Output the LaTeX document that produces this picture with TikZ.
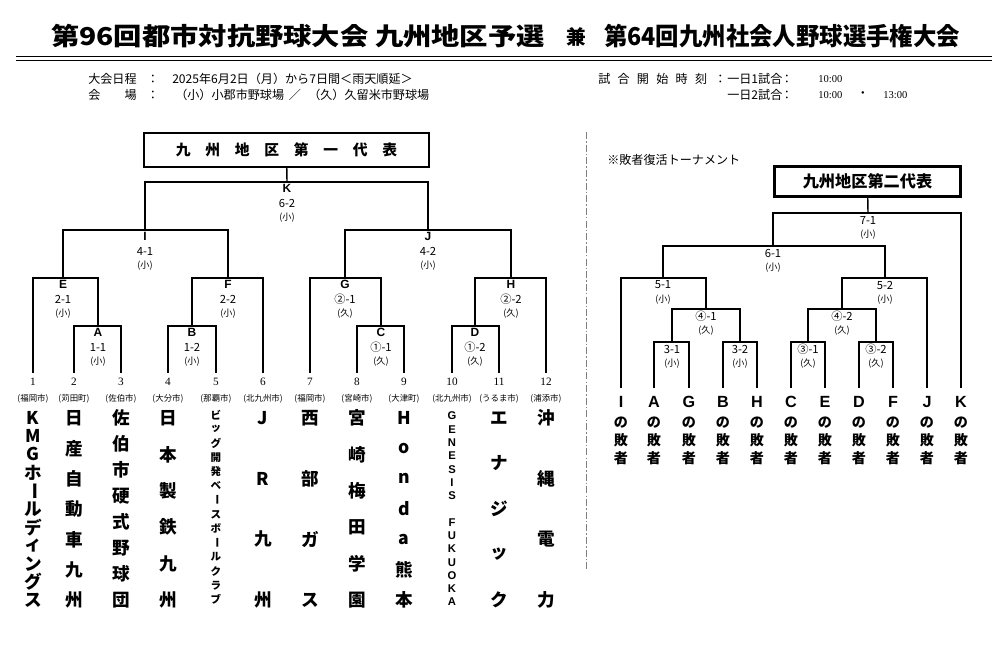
\documentclass[tikz,border=0pt]{standalone}
\usepackage{fontspec}
\setmainfont{Liberation Sans}
\newfontfamily\jp{Noto Sans CJK JP}
\newfontfamily\timesfont{Liberation Serif}
\usetikzlibrary{calc}
\newcommand\chou{\rotatebox[origin=c]{-90}{ー}}
\newcommand\hsp{\hspace{0.6em}}
\begin{document}
\begin{tikzpicture}[x=0.025cm,y=-0.025cm,
    bk/.style={line width=1pt},
    title/.style={font=\jp\bfseries\fontsize{17.5}{17.5}\selectfont,inner sep=0},
    info/.style={font=\jp\fontsize{8.6}{8.6}\selectfont,inner sep=0},
    clock/.style={font=\timesfont\fontsize{7.5}{7.5}\selectfont,inner sep=0},
    topbox/.style={draw,line width=1.4pt,minimum width=7.1cm,minimum height=0.85cm,
      font=\jp\bfseries\fontsize{10.5}{10.5}\selectfont},
    num/.style={font=\timesfont\fontsize{8}{8}\selectfont,inner xsep=1pt,inner ysep=3.7pt},
    city/.style={font=\jp\fontsize{6}{6}\selectfont,inner sep=0},
    ltr/.style={font=\bfseries\fontsize{8.5}{8.5}\selectfont,inner sep=0},
    score/.style={font=\jp\fontsize{8}{8}\selectfont,inner sep=0},
    venue/.style={font=\jp\fontsize{6.5}{6.5}\selectfont,inner sep=0},
    tname/.style={font=\jp\bfseries\fontsize{12.5}{12.5}\selectfont,inner sep=0},
    tsmall/.style={font=\jp\bfseries\fontsize{7.5}{7.5}\selectfont,inner sep=0},
    tlatin/.style={font=\bfseries\fontsize{8}{8}\selectfont,inner sep=0},
    lose/.style={font=\bfseries\fontsize{11.5}{11.5}\selectfont,inner xsep=1pt,inner ysep=5.8pt},
    loser/.style={font=\jp\bfseries\fontsize{10}{12.7}\selectfont,align=center,inner sep=0},
    sep/.style={gray,line width=0.6pt,dash pattern=on 5pt off 1.5pt on 1pt off 1.5pt}]
  \path[use as bounding box,fill=white] (0,0) rectangle (1000,645);

  % title
  \node[title] (tt1) at (298,36) {\scalebox{1.15}[1]{第96回都市対抗野球大会 九州地区予選}};
  \node[title,font=\jp\bfseries\fontsize{14}{14}\selectfont] (tt2) at (576,37) {兼};
  \node[title] (tt3) at (782,36) {\scalebox{0.95}[1]{第64回九州社会人野球選手権大会}};
  \draw[line width=1.4pt] (16,56.5) -- (992,56.5);
  \draw[line width=0.5pt] (16,60.5) -- (992,60.5);

  % info
  \node[info,anchor=west] (d1) at (88,79) {大会日程};
  \node[info] (d2) at (153,79) {：};
  \node[info,anchor=west] (d3) at (172,79) {2025年6月2日（月）から7日間＜雨天順延＞};
  \node[info,anchor=west] (v1) at (88,95) {会　　場};
  \node[info] (v2) at (153,95) {：};
  \node[info,anchor=west] (v3) at (175,95) {（小）小郡市野球場};
  \node[info] (v4) at (295,95) {／};
  \node[info,anchor=west] (v5) at (308,95) {（久）久留米市野球場};
  \node[info,anchor=west] (s1) at (598,79) {試\hsp 合\hsp 開\hsp 始\hsp 時\hsp 刻\hsp ：};
  \node[info,anchor=west] (s2) at (727,79) {一日1試合};
  \node[info] (s3) at (787,79) {：};
  \node[clock,anchor=west] (s4) at (818,79) {10:00};
  \node[info,anchor=west] (s5) at (727,95) {一日2試合};
  \node[info] (s6) at (787,95) {：};
  \node[clock,anchor=west] (s7) at (818,95) {10:00};
  \node[info] (s8) at (863,95) {・};
  \node[clock,anchor=west] (s9) at (883,95) {13:00};

  % first representative
  \node[topbox] (top1) at (286.5,150) {九　州　地　区　第　一　代　表};
  \foreach \n/\x/\c in {1/33/福岡市,2/74/苅田町,3/121/佐伯市,4/168/大分市,5/216/那覇市,6/263/北九州市,
      7/310/福岡市,8/357/宮崎市,9/404/大津町,10/452/北九州市,11/499/うるま市,12/546/浦添市} {
    \node[num] (n\n) at (\x,382) {\n};
    \node[city] (c\n) at (\x,399) {(\c)};
  }
  \coordinate (A) at (98,326);
  \coordinate (B) at (192,326);
  \coordinate (C) at (381,326);
  \coordinate (D) at (475,326);
  \coordinate (E) at (63,278);
  \coordinate (F) at (228,278);
  \coordinate (G) at (345,278);
  \coordinate (H) at (511,278);
  \coordinate (I) at (145,230);
  \coordinate (J) at (428,230);
  \coordinate (K) at (287,182);
  \draw[bk] (n2) |- (A) -| (n3);
  \draw[bk] (n4) |- (B) -| (n5);
  \draw[bk] (n8) |- (C) -| (n9);
  \draw[bk] (n10) |- (D) -| (n11);
  \draw[bk] (n1) |- (E) -| (A);
  \draw[bk] (B) |- (F) -| (n6);
  \draw[bk] (n7) |- (G) -| (C);
  \draw[bk] (D) |- (H) -| (n12);
  \draw[bk] (E) |- (I) -| (F);
  \draw[bk] (G) |- (J) -| (H);
  \draw[bk] (I) |- (K) -| (J);
  \draw[bk] (K) -- (top1);
  \foreach \m/\s/\v in {A/1-1/小,B/1-2/小,C/①-1/久,D/①-2/久,E/2-1/小,F/2-2/小,
      G/②-1/久,H/②-2/久,I/4-1/小,J/4-2/小,K/6-2/小} {
    \node[ltr] (\m-l) at ($(\m)+(0,6)$) {\m};
    \node[score] (\m-s) at ($(\m)+(0,21)$) {\s};
    \node[venue] (\m-v) at ($(\m)+(0,36)$) {(\v)};
  }

  % team names
  \foreach \c [count=\i from 0] in {K,M,G,ホ,\chou,ル,デ,ィ,ン,グ,ス}
    \node[tname] (ta\i) at (33,{418+\i*18.2}) {\c};
  \foreach \c [count=\i from 0] in {日,産,自,動,車,九,州}
    \node[tname] (tb\i) at (74,{418+\i*30.33}) {\c};
  \foreach \c [count=\i from 0] in {佐,伯,市,硬,式,野,球,団}
    \node[tname] (tc\i) at (121,{418+\i*26}) {\c};
  \foreach \c [count=\i from 0] in {日,本,製,鉄,九,州}
    \node[tname] (td\i) at (168,{418+\i*36.4}) {\c};
  \foreach \c [count=\i from 0] in {ビ,ッ,グ,開,発,ベ,\chou,ス,ボ,\chou,ル,ク,ラ,ブ}
    \node[tsmall] (te\i) at (216,{415+\i*14.2}) {\c};
  \foreach \c [count=\i from 0] in {J,R,九,州}
    \node[tname] (tf\i) at (263,{418+\i*60.67}) {\c};
  \foreach \c [count=\i from 0] in {西,部,ガ,ス}
    \node[tname] (tg\i) at (310,{418+\i*60.67}) {\c};
  \foreach \c [count=\i from 0] in {宮,崎,梅,田,学,園}
    \node[tname] (th\i) at (357,{418+\i*36.4}) {\c};
  \foreach \c [count=\i from 0] in {H,o,n,d,a,熊,本}
    \node[tname] (ti\i) at (404,{418+\i*30.33}) {\c};
  \foreach \c [count=\i from 0] in {G,E,N,E,S,I,S}
    \node[tlatin] (tj\i) at (452,{416+\i*13.29}) {\c};
  \foreach \c [count=\i from 8] in {F,U,K,U,O,K,A}
    \node[tlatin] (tj\i) at (452,{416+\i*13.29}) {\c};
  \foreach \c [count=\i from 0] in {エ,ナ,ジ,ッ,ク}
    \node[tname] (tk\i) at (499,{418+\i*45.5}) {\c};
  \foreach \c [count=\i from 0] in {沖,縄,電,力}
    \node[tname] (tl\i) at (546,{418+\i*60.67}) {\c};

  \draw[sep] (586,132) -- (586,570);

  % second representative
  \node[info,anchor=west] (rev) at (607,160) {※敗者復活トーナメント};
  \node[topbox,line width=2.1pt,minimum width=4.65cm,minimum height=0.75cm,
    font=\jp\bfseries\fontsize{11.5}{11.5}\selectfont] (top2) at (867.5,181.5) {九州地区第二代表};
  \foreach \m/\x in {I/621,A/654,G/689,B/723,H/757,C/791,E/825,D/859,F/893,J/927,K/961} {
    \node[lose] (l\m) at (\x,402) {\m};
    \node[loser] (d\m) at (\x,441) {の\\敗\\者};
  }
  \coordinate (s31) at (672,342);
  \coordinate (s32) at (740,342);
  \coordinate (s33) at (808,342);
  \coordinate (s34) at (876,342);
  \coordinate (s41) at (706,309);
  \coordinate (s42) at (842,309);
  \coordinate (s51) at (663,278);
  \coordinate (s52) at (885,278);
  \coordinate (s61) at (773,246);
  \coordinate (s71) at (868,213);
  \draw[bk] (lA) |- (s31) -| (lG);
  \draw[bk] (lB) |- (s32) -| (lH);
  \draw[bk] (lC) |- (s33) -| (lE);
  \draw[bk] (lD) |- (s34) -| (lF);
  \draw[bk] (s31) |- (s41) -| (s32);
  \draw[bk] (s33) |- (s42) -| (s34);
  \draw[bk] (lI) |- (s51) -| (s41);
  \draw[bk] (s42) |- (s52) -| (lJ);
  \draw[bk] (s51) |- (s61) -| (s52);
  \draw[bk] (s61) |- (s71) -| (lK);
  \draw[bk] (s71) -- (top2);
  \foreach \m/\s/\v in {s31/3-1/小,s32/3-2/小,s33/③-1/久,s34/③-2/久,s41/④-1/久,
      s42/④-2/久,s51/5-1/小,s52/5-2/小,s61/6-1/小,s71/7-1/小} {
    \node[score] (\m-s) at ($(\m)+(0,7)$) {\s};
    \node[venue] (\m-v) at ($(\m)+(0,22)$) {(\v)};
  }
\end{tikzpicture}
\end{document}
